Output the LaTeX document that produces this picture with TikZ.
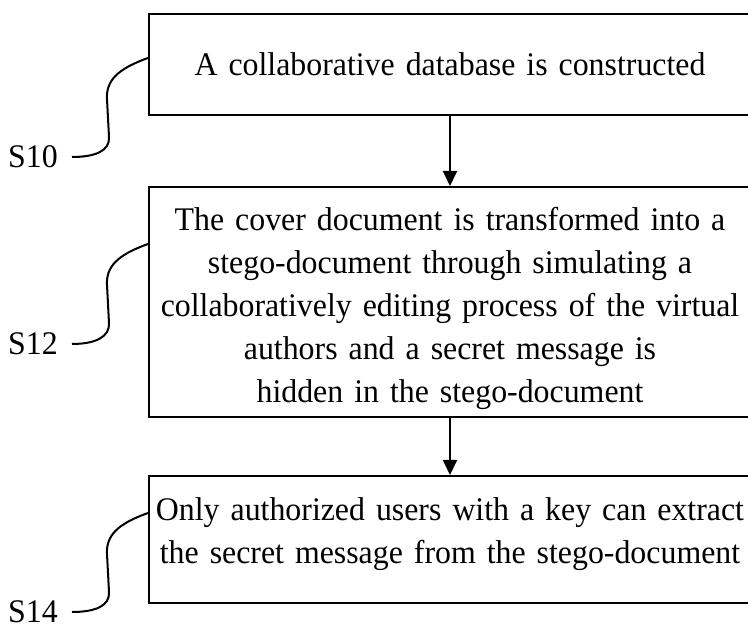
\documentclass[tikz,border=0pt]{standalone}
\usepackage{fontspec}
\setmainfont{Liberation Serif}[FakeStretch=0.965]
\usetikzlibrary{arrows.meta,calc}
\begin{document}
\begin{tikzpicture}[x=1pt,y=-1pt,
  stepbox/.style={draw,line width=2pt,minimum width=602pt,inner xsep=0pt,inner ysep=0pt,
    text width=600pt,align=center,font=\fontsize{33}{43}\selectfont},
  lab/.style={inner ysep=0pt,inner xsep=14pt,anchor=east,font=\fontsize{33}{40}\selectfont},
  arr/.style={line width=2pt,-{Triangle[width=14pt,length=15pt]}},
  conn/.style={line width=2pt}]
\useasboundingbox (0,0) rectangle (748,628);
\node[stepbox,minimum height=101pt] (b1) at (450,64.5) {A collaborative database is constructed};
\node[stepbox,minimum height=230pt] (b2) at (450,302) {\rule{0pt}{36pt}The cover document is transformed into a\\
stego-document through simulating a\\
collaboratively editing process of the virtual\\
authors and a secret message is\\
hidden in the stego-document};
\node[stepbox,minimum height=127pt] (b3) at (450,539.5) {Only authorized users with a key can extract\\
the secret message from the stego-document\rule[-17pt]{0pt}{1pt}};
\node[lab] (l1) at (72,157) {S10};
\node[lab] (l2) at (72,344) {S12};
\node[lab] (l3) at (72,612) {S14};
\coordinate (s1) at ($(b1.north west)+(0,45)$);
\coordinate (s2) at ($(b2.north west)+(0,58)$);
\coordinate (s3) at ($(b3.north west)+(0,38)$);
\draw[arr] (b1.south) -- (b2.north);
\draw[arr] (b2.south) -- (b3.north);
\foreach \s/\l in {s1/l1,s2/l2,s3/l3}{
  \draw[conn] (\s) .. controls +(-31,11) and +(-1,-18) .. ++(-41,41) -- ++(2,38)
    .. controls +(1,14) and +(23,0) .. (\l.east);
}
\end{tikzpicture}
\end{document}
